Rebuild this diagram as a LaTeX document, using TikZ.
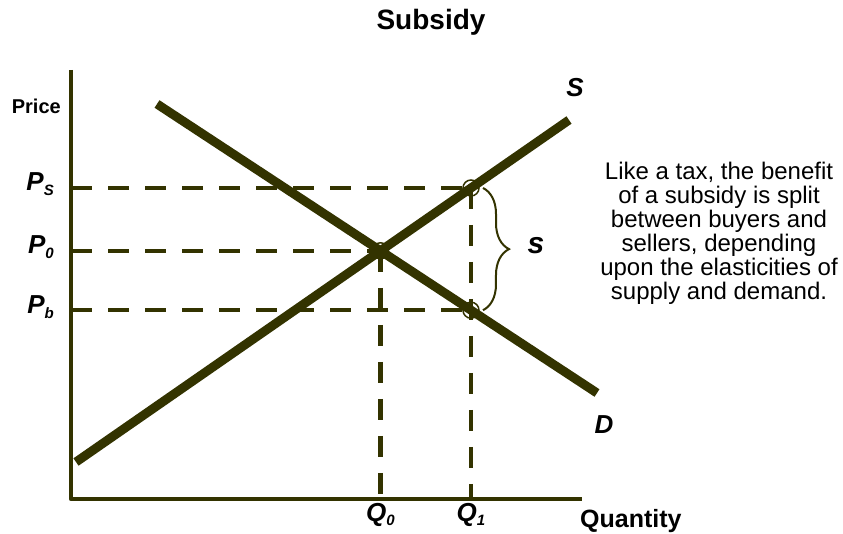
\documentclass[tikz,border=0pt]{standalone}
\usepackage{fontspec}
\setmainfont{Liberation Sans}
\usetikzlibrary{calc,intersections,decorations.pathreplacing}
\definecolor{oliva}{RGB}{51,51,0}
\newcommand{\subind}[1]{\raisebox{-0.35ex}{\fontsize{15}{15}\selectfont #1}}

\begin{document}
\begin{tikzpicture}[x=1pt,y=-1pt,
		eje/.style={line width=4.5pt, draw=oliva, line join=round},
		curva/.style={line width=9pt, draw=oliva},
		guia/.style={line width=4.5pt, draw=oliva, dash pattern=on 21pt off 16pt},
		marca/.style={line width=1.5pt, draw=oliva},
		rotulo/.style={inner sep=0pt, font=\bfseries},
		etiq/.style={inner sep=0pt, font=\fontsize{26}{26}\selectfont\bfseries\itshape}]
	\useasboundingbox (0,0) rectangle (843,534);
	
	% Ejes
	\coordinate (O) at (71,499);
	\coordinate (ytop) at (71,70);
	\coordinate (xfin) at (582,499);
	\draw[eje] (ytop) -- (O) -- (xfin);
	\node[rotulo, anchor=base, font=\fontsize{28}{28}\selectfont\bfseries] (titulo) at (431,30) {Subsidy};
	\node[rotulo, anchor=base east, font=\fontsize{20}{20}\selectfont\bfseries] (precio) at (61,114) {Price};
	\node[rotulo, anchor=base west, font=\fontsize{25}{25}\selectfont\bfseries] (cantidad) at (580,527) {Quantity};
	
	% Oferta y demanda
	\coordinate (S0) at (76,462);
	\coordinate (S1) at (569,120);
	\coordinate (D0) at (157,104);
	\coordinate (D1) at (597,393);
	\path[name path=oferta] (S0) -- (S1);
	\path[name path=demanda] (D0) -- (D1);
	\path[name path=vert] (471,60) -- (471,500);
	\path[name intersections={of=oferta and demanda, by=E}];
	\path[name intersections={of=oferta and vert, by=A}];
	\path[name intersections={of=demanda and vert, by=B}];
	
	% Lineas de guia
	\draw[guia] (O |- A) -- (A);
	\draw[guia] (O |- E) -- (E);
	\draw[guia] (O |- B) -- (B);
	\draw[guia] (E) -- (E |- O);
	\draw[guia] (A) -- (A |- O);
	
	\draw[curva] (S0) -- (S1);
	\draw[curva] (D0) -- (D1);
	\foreach \p in {E,A,B} \draw[marca] (\p) circle (8pt);
	
	% Etiquetas
	\node[etiq, anchor=base] (lS) at (575,97) {S};
	\node[etiq, anchor=base] (lD) at (604,433) {D};
	\node[etiq, anchor=base east] (pS) at ($(O |- A)+(-17,3)$) {P\subind{S}};
	\node[etiq, anchor=base east] (p0) at ($(O |- E)+(-17,3)$) {P\subind{0}};
	\node[etiq, anchor=base east] (pb) at ($(O |- B)+(-17,3)$) {P\subind{b}};
	\node[etiq, anchor=base] (q0) at ($(E |- O)+(0,22)$) {Q\subind{0}};
	\node[etiq, anchor=base] (q1) at ($(A |- O)+(0,22)$) {Q\subind{1}};
	
	% Llave del subsidio
	\draw[marca, line width=2pt, decorate, decoration={brace, amplitude=26pt}] ($(A)+(12,0)$) -- ($(B)+(12,0)$);
	\node[etiq, anchor=base, font=\fontsize{30}{30}\selectfont\bfseries\itshape] (sub) at (536,254) {s};
	
	% Nota
	\node[inner sep=0pt, align=center, anchor=north, font=\fontsize{24}{24}\selectfont] (nota) at (719,162) {Like a tax, the benefit\\ of a subsidy is split\\ between buyers and\\ sellers, depending\\ upon the elasticities of\\ supply and demand.};
\end{tikzpicture}
\end{document}
